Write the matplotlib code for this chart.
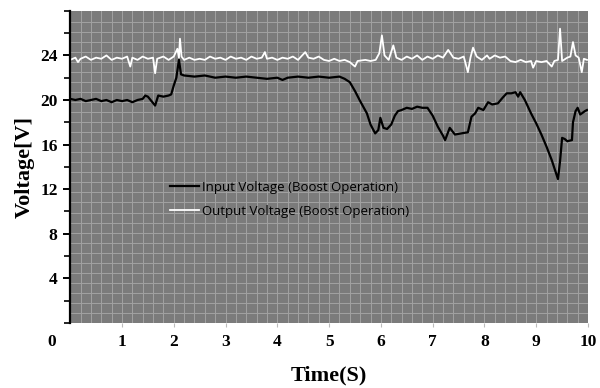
import matplotlib
matplotlib.use("Agg")
import matplotlib.pyplot as plt
from matplotlib.ticker import MultipleLocator

# input voltage (boost operation)
t_in = [0.0, 0.1, 0.2, 0.3, 0.4, 0.5, 0.6, 0.7, 0.8, 0.9, 1.0, 1.1, 1.2, 1.3, 1.4,
        1.45, 1.5, 1.64, 1.7, 1.8, 1.9, 1.95, 2.0, 2.05, 2.1, 2.14, 2.2, 2.4, 2.6,
        2.8, 3.0, 3.2, 3.4, 3.6, 3.8, 4.0, 4.1, 4.2, 4.4, 4.6, 4.8, 5.0, 5.2, 5.3,
        5.4, 5.5, 5.6, 5.73, 5.8, 5.89, 5.95, 5.99, 6.05, 6.12, 6.2, 6.27, 6.33,
        6.4, 6.5, 6.6, 6.7, 6.8, 6.9, 7.0, 7.1, 7.2, 7.24, 7.33, 7.43, 7.55, 7.68,
        7.75, 7.82, 7.88, 7.98, 8.07, 8.15, 8.26, 8.35, 8.43, 8.52, 8.6, 8.65,
        8.69, 8.78, 8.9, 9.0, 9.1, 9.2, 9.3, 9.42, 9.46, 9.5, 9.55, 9.6, 9.69,
        9.71, 9.76, 9.8, 9.85, 9.88, 9.94, 9.98]
v_in = [20.1, 20.0, 20.1, 19.9, 20.0, 20.1, 19.9, 20.0, 19.8, 20.0, 19.9, 20.0,
        19.8, 20.0, 20.1, 20.4, 20.3, 19.5, 20.4, 20.3, 20.4, 20.5, 21.3, 22.0,
        23.6, 22.3, 22.2, 22.1, 22.2, 22.0, 22.1, 22.0, 22.1, 22.0, 21.9, 22.0,
        21.8, 22.0, 22.1, 22.0, 22.1, 22.0, 22.1, 21.9, 21.6, 20.8, 19.9, 18.8,
        17.8, 17.0, 17.3, 18.4, 17.5, 17.4, 17.8, 18.6, 19.0, 19.1, 19.3, 19.2,
        19.4, 19.3, 19.3, 18.6, 17.6, 16.8, 16.4, 17.5, 16.9, 17.0, 17.1, 18.5,
        18.8, 19.3, 19.1, 19.8, 19.6, 19.7, 20.2, 20.6, 20.6, 20.7, 20.3, 20.7,
        20.0, 18.8, 17.9, 16.9, 15.8, 14.6, 12.9, 14.5, 16.6, 16.5, 16.3, 16.4,
        18.0, 19.0, 19.3, 18.7, 18.8, 19.0, 19.1]

# output voltage (boost operation)
t_out = [0.0, 0.1, 0.15, 0.2, 0.3, 0.4, 0.5, 0.6, 0.7, 0.8, 0.9, 1.0, 1.1, 1.16,
         1.2, 1.3, 1.4, 1.5, 1.6, 1.64, 1.68, 1.8, 1.9, 2.0, 2.07, 2.1, 2.12, 2.15,
         2.2, 2.3, 2.4, 2.5, 2.6, 2.7, 2.8, 2.9, 3.0, 3.1, 3.2, 3.3, 3.4, 3.5, 3.6,
         3.7, 3.76, 3.8, 3.9, 4.0, 4.1, 4.2, 4.3, 4.4, 4.54, 4.6, 4.7, 4.8, 4.9,
         5.0, 5.1, 5.2, 5.3, 5.4, 5.5, 5.55, 5.7, 5.8, 5.9, 5.97, 6.02, 6.07, 6.15,
         6.24, 6.3, 6.4, 6.5, 6.6, 6.7, 6.8, 6.9, 7.0, 7.1, 7.2, 7.3, 7.4, 7.5,
         7.6, 7.68, 7.73, 7.78, 7.85, 7.95, 8.05, 8.1, 8.2, 8.3, 8.4, 8.5, 8.6,
         8.7, 8.8, 8.9, 8.94, 9.0, 9.1, 9.2, 9.3, 9.35, 9.42, 9.46, 9.5, 9.6,
         9.66, 9.71, 9.76, 9.82, 9.88, 9.92, 9.98]
v_out = [23.6, 23.8, 23.4, 23.7, 23.9, 23.6, 23.8, 23.7, 24.0, 23.6, 23.8, 23.7,
         23.9, 23.0, 23.8, 23.6, 23.9, 23.7, 23.8, 22.4, 23.7, 23.9, 23.6, 23.9,
         24.6, 23.8, 25.5, 23.9, 23.6, 23.8, 23.6, 23.7, 23.6, 23.9, 23.7, 23.8,
         23.6, 23.9, 23.7, 23.8, 23.6, 23.9, 23.7, 23.8, 24.3, 23.7, 23.8, 23.6,
         23.8, 23.7, 23.9, 23.6, 24.3, 23.8, 23.7, 23.9, 23.6, 23.5, 23.7, 23.5,
         23.6, 23.4, 23.0, 23.5, 23.6, 23.5, 23.6, 24.2, 25.8, 24.0, 23.6, 24.9,
         23.8, 23.6, 23.9, 23.7, 24.0, 23.6, 23.9, 23.7, 24.0, 23.8, 24.5, 23.8,
         23.7, 23.9, 22.5, 23.8, 24.7, 23.9, 23.6, 24.0, 23.7, 24.0, 23.8, 23.9,
         23.5, 23.4, 23.6, 23.4, 23.5, 22.9, 23.5, 23.4, 23.5, 23.0, 23.5, 23.6,
         26.4, 23.5, 23.8, 23.9, 25.2, 24.0, 23.8, 22.5, 23.7, 23.6]

x_ticks = [1, 2, 3, 4, 5, 6, 7, 8, 9, 10]
y_ticks = [4, 8, 12, 16, 20, 24]

fig = plt.figure(figsize=(6, 3.88), dpi=100)
ax = fig.add_axes([0.117, 0.168, 0.863, 0.804])
ax.set_facecolor("#7b7b7b")

# background grid (fine mesh)
for gy in range(1, 31):
    ax.axhline(gy * 0.9, color="#a2a2a2", lw=0.7, zorder=0.5)
for k in range(1, 50):
    ax.axvline(k * 0.2, color="#a2a2a2", lw=0.7, zorder=0.5)

ax.plot(t_in, v_in, color="black", lw=1.6, label="Input Voltage (Boost Operation)")
ax.plot(t_out, v_out, color="white", lw=1.3, label="Output Voltage (Boost Operation)")

ax.set_xlim(0, 10)
ax.set_ylim(0, 28)
ax.set_xticks(x_ticks)
ax.set_yticks(y_ticks)
ax.yaxis.set_minor_locator(MultipleLocator(2))

for s in ["top", "right", "bottom"]:
    ax.spines[s].set_visible(False)
ax.spines["left"].set_linewidth(1.6)

serif = "Liberation Serif"
ax.tick_params(axis="y", which="major", length=5, width=1.4, direction="out",
               labelsize=12.5, pad=4)
ax.tick_params(axis="y", which="minor", length=4, width=1.2, direction="out")
ax.tick_params(axis="x", which="major", length=3, color="#bbbbbb", labelsize=12.5, pad=5)
for lab in ax.get_xticklabels() + ax.get_yticklabels():
    lab.set_fontfamily(serif)
    lab.set_fontweight("bold")
ax.text(-0.35, -1.0, "0", ha="center", va="top", fontsize=12.5,
        fontfamily=serif, fontweight="bold")

ax.set_xlabel("Time(S)", fontsize=16, fontfamily=serif, fontweight="bold", labelpad=11)
ax.set_ylabel("Voltage[V]", fontsize=16, fontfamily=serif, fontweight="bold", labelpad=4)

leg = ax.legend(loc="upper left", bbox_to_anchor=(0.193, 0.455), frameon=False,
                borderaxespad=0, borderpad=0, handlelength=2.2, handletextpad=0.25,
                labelspacing=0.85, prop={"family": "Open Sans", "size": 9.5})

fig.savefig("out.png", dpi=100)
